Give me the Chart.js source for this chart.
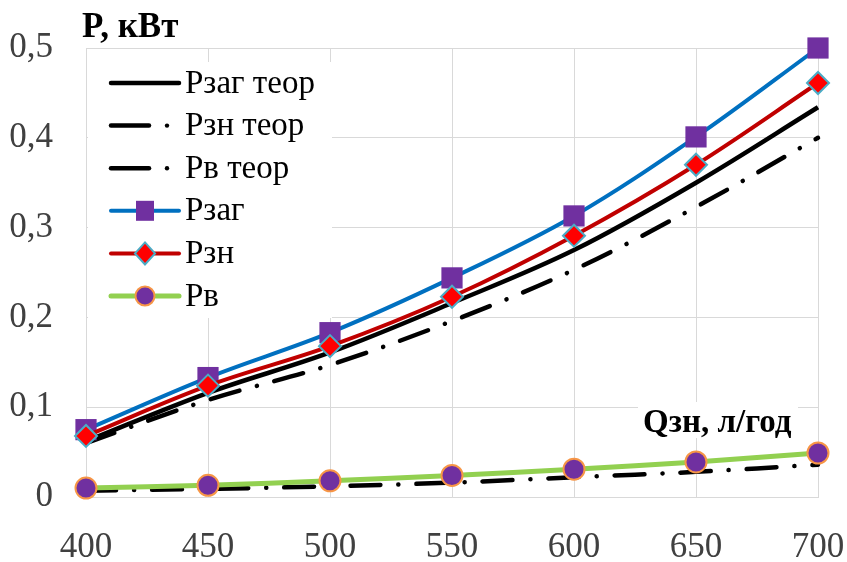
<!DOCTYPE html>
<html>
<head>
  <meta charset="UTF-8">
  <title>P(Q)</title>
  <script src="https://cdn.jsdelivr.net/npm/chart.js"></script>
  <style>
    html, body { margin: 0; padding: 0; background: #fff; }
    canvas { display: block; }
  </style>
</head>
<body>
<canvas id="pChart" width="847" height="562"></canvas>

<script>
  // Q, л/год
  const flow = [400, 450, 500, 550, 600, 650, 700];

  // P, кВт
  const pZagTeor = [0.062, 0.116, 0.161, 0.216, 0.275, 0.350, 0.434];
  const pZnTeor  = [0.060, 0.108, 0.147, 0.196, 0.253, 0.323, 0.400];
  const pVTeor   = [0.007, 0.009, 0.012, 0.016, 0.022, 0.028, 0.036];
  const pZag     = [0.075, 0.133, 0.183, 0.244, 0.313, 0.401, 0.500];
  const pZn      = [0.068, 0.124, 0.168, 0.223, 0.291, 0.370, 0.461];
  const pV       = [0.010, 0.013, 0.018, 0.024, 0.031, 0.039, 0.049];

  const yTicks = [0, 0.1, 0.2, 0.3, 0.4, 0.5];

  const serifFont = "'Liberation Serif', 'Times New Roman', Times, serif";
  const dashDot = [30, 18, 0.1, 18];

  Chart.defaults.font.family = serifFont;

  const toXY = arr => arr.map((v, i) => ({ x: flow[i], y: v }));

  // legend inside plot + axis titles
  const extras = {
    id: 'extras',
    beforeDatasetsDraw(chart) {
      const ctx = chart.ctx;
      ctx.save();
      ctx.fillStyle = '#fff';
      ctx.fillRect(88, 62, 244, 256);
      ctx.fillRect(638, 402, 160, 36);

      chart.data.datasets.forEach((ds, i) => {
        const y = 83 + i * 42.6;
        ctx.strokeStyle = ds.borderColor;
        ctx.lineWidth = ds.borderWidth;
        ctx.lineCap = 'round';
        ctx.setLineDash([]);
        ctx.beginPath();
        if (ds.borderDash && ds.borderDash.length) {
          ctx.moveTo(111, y); ctx.lineTo(149, y); ctx.stroke();
          ctx.beginPath();
          ctx.fillStyle = ds.borderColor;
          ctx.arc(167, y, 2.2, 0, Math.PI * 2);
          ctx.fill();
        } else {
          ctx.moveTo(111, y); ctx.lineTo(179, y); ctx.stroke();
        }
        if (ds.pointRadius > 0) {
          const cx = 145;
          ctx.fillStyle = ds.pointBackgroundColor;
          ctx.strokeStyle = ds.pointBorderColor;
          ctx.lineWidth = ds.pointBorderWidth;
          ctx.beginPath();
          if (ds.pointStyle === 'rect') {
            ctx.rect(cx - 9, y - 10, 18, 20);
          } else if (ds.pointStyle === 'rectRot') {
            ctx.moveTo(cx, y - 11); ctx.lineTo(cx + 10, y);
            ctx.lineTo(cx, y + 11); ctx.lineTo(cx - 10, y);
            ctx.closePath();
          } else {
            ctx.arc(cx, y, 9.5, 0, Math.PI * 2);
          }
          ctx.fill();
          if (ds.pointBorderWidth) ctx.stroke();
        }
        ctx.fillStyle = '#000';
        ctx.font = '33px ' + serifFont;
        ctx.textBaseline = 'middle';
        ctx.textAlign = 'left';
        ctx.fillText(ds.label, 185, y + 1);
      });

      ctx.fillStyle = '#000';
      ctx.font = 'bold 35px ' + serifFont;
      ctx.textBaseline = 'alphabetic';
      ctx.fillText('P, кВт', 82, 37);
      ctx.font = 'bold 33px ' + serifFont;
      ctx.fillText('Qзн, л/год', 643, 432);
      ctx.restore();
    }
  };

  const ctx = document.getElementById('pChart').getContext('2d');

  new Chart(ctx, {
    type: 'line',
    data: {
      datasets: [
        {
          label: 'Pзаг теор', data: toXY(pZagTeor), order: 4,
          borderColor: '#000', borderWidth: 4.5, pointRadius: 0
        },
        {
          label: 'Pзн теор', data: toXY(pZnTeor), order: 5,
          borderColor: '#000', borderWidth: 4.5, pointRadius: 0,
          borderDash: dashDot, borderCapStyle: 'round'
        },
        {
          label: 'Pв теор', data: toXY(pVTeor), order: 6,
          borderColor: '#000', borderWidth: 4.5, pointRadius: 0,
          borderDash: dashDot, borderCapStyle: 'round'
        },
        {
          label: 'Pзаг', data: toXY(pZag), order: 2,
          borderColor: '#0070C0', borderWidth: 4,
          pointStyle: 'rect', pointRadius: 15,
          pointBackgroundColor: '#7030A0', pointBorderColor: '#7030A0', pointBorderWidth: 0
        },
        {
          label: 'Pзн', data: toXY(pZn), order: 1,
          borderColor: '#C00000', borderWidth: 4,
          pointStyle: 'rectRot', pointRadius: 11,
          pointBackgroundColor: '#FF0000', pointBorderColor: '#4BACC6', pointBorderWidth: 2
        },
        {
          label: 'Pв', data: toXY(pV), order: 3,
          borderColor: '#92D050', borderWidth: 5,
          pointStyle: 'circle', pointRadius: 10.5,
          pointBackgroundColor: '#7030A0', pointBorderColor: '#F79646', pointBorderWidth: 2
        }
      ]
    },
    options: {
      responsive: false,
      animation: false,
      events: [],
      datasets: { line: { tension: 0.35, clip: false, fill: false } },
      layout: { padding: { top: 48, right: 29, left: 0, bottom: 0 } },
      plugins: {
        legend: { display: false },
        tooltip: { enabled: false }
      },
      scales: {
        x: {
          type: 'linear',
          min: 400, max: 700,
          afterFit: s => {
            s.height = 65;
            s.paddingLeft = 0;
            s.paddingRight = 0;
          },
          afterBuildTicks: s => { s.ticks = flow.map(v => ({ value: v })); },
          grid: { color: '#d9d9d9', lineWidth: 1, drawTicks: false },
          border: { color: '#d9d9d9' },
          ticks: {
            padding: 30,
            color: '#404040',
            font: { family: serifFont, size: 35 },
            maxRotation: 0
          }
        },
        y: {
          min: 0, max: 0.5,
          afterFit: s => {
            s.width = 86;
            s.paddingTop = 0;
            s.paddingBottom = 0;
          },
          afterBuildTicks: s => { s.ticks = yTicks.map(v => ({ value: v })); },
          grid: { color: '#d9d9d9', lineWidth: 1, drawTicks: false },
          border: { color: '#d9d9d9' },
          ticks: {
            padding: 33,
            color: '#404040',
            font: { family: serifFont, size: 35 },
            callback: v => v === 0 ? '0' : v.toFixed(1).replace('.', ',')
          }
        }
      }
    },
    plugins: [extras]
  });
</script>
</body>
</html>
